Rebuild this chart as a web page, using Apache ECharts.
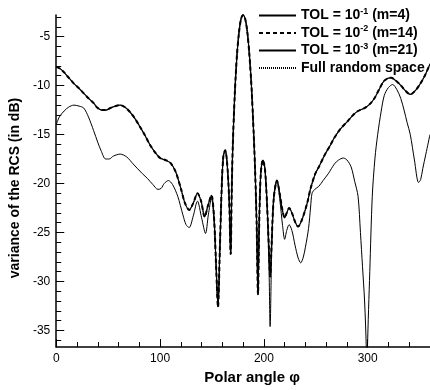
<!DOCTYPE html>
<html>
<head>
<meta charset="utf-8">
<script src="https://cdn.jsdelivr.net/npm/echarts@6/dist/echarts.min.js"></script>
<style>
  html, body { margin: 0; padding: 0; background: #fff; }
  #chart { width: 430px; height: 390px; }
</style>
</head>
<body>
<div id="chart"></div>
<script>
// thick curve: TOL=1e-2, TOL=1e-3 and full random space lie on top of each other
var upperPhi = [0, 4, 8, 12, 17, 22, 26.5, 31, 36, 40, 43.6, 48, 52, 57, 61.6, 66, 71, 76, 80, 85,
    90, 95, 100, 105, 110, 115, 120, 124, 128, 132, 136, 139.5, 143, 146, 149.5, 152, 154, 155.8, 157.5, 159.5,
    161, 162.7, 164.5, 166.5, 168, 169, 170, 172, 174, 176, 178, 180, 182, 184, 186, 188, 190, 191.5, 193, 194.3,
    195.5, 197, 199, 201, 203, 205, 206, 207.5, 209.5, 212.6, 215.5, 218, 220, 222, 224.3, 227, 230, 233, 237, 241.7,
    245, 249.5, 253, 259, 264, 268, 274, 281, 286, 290.7, 297, 302, 306.5, 311, 316, 322.5, 327, 332, 336, 341,
    346, 350.7, 355, 360];
var upperVals = [-8.1, -8.3, -8.7, -9.2, -9.8, -10.3, -10.8, -11.3, -11.8, -12.3, -12.5, -12.5, -12.3, -12.1, -12.0, -12.2, -12.7, -13.4, -14.1, -15.0,
    -16.0, -16.8, -17.4, -17.6, -17.9, -18.8, -20.5, -22.0, -22.7, -22.0, -21.0, -21.8, -23.4, -22.3, -21.2, -23.5, -28.5, -32.6, -27, -20,
    -17.2, -16.6, -17.8, -21.5, -27.2, -21, -16.3, -10.8, -7.0, -4.6, -3.2, -2.8, -3.2, -4.5, -6.8, -10.0, -14.5, -18.5, -24, -31.3,
    -24, -19, -17.6, -18.5, -22, -27, -29.5, -26, -21.5, -19.7, -21.2, -22.8, -23.5, -23.0, -22.5, -23.0, -23.9, -24.4, -23.6, -22.0,
    -20.5, -19.0, -18.3, -17.0, -16.1, -15.3, -14.4, -13.6, -13.0, -12.6, -12.3, -11.9, -11.3, -10.4, -9.5, -9.2, -9.5, -10.0, -10.5, -10.9,
    -10.5, -9.8, -9.0, -7.8];

// thin curve: TOL=1e-1 (m=4)
var lowerPhi = [0, 3, 7.6, 12, 17, 22, 26.5, 31, 36, 40, 43, 47.6, 51, 55, 61.6, 68, 74, 83, 88, 93,
    98, 101, 104, 108, 112, 117, 122, 125, 128, 132, 136, 140, 143.8, 146.5, 149.5, 152, 154, 155.8, 157.5, 159.5,
    161, 162.7, 164.5, 166.5, 168, 169, 170, 172, 174, 176, 178, 180, 182, 184, 186, 188, 190, 191.5, 193, 194.3,
    195.5, 197, 199, 201, 203, 205, 206, 207.5, 209.5, 212.6, 215.5, 218, 220, 222, 224.3, 227, 230, 233, 235.5, 238,
    240, 243, 245, 246.4, 249, 252.8, 257, 262, 268, 272, 276.5, 280, 284, 287.5, 290.7, 293, 295, 297, 298.6, 299.2,
    299.8, 302, 304.4, 307, 309.6, 313, 316, 320, 324, 328, 331.8, 335, 338, 341, 345, 349, 351, 353, 356, 360];
var lowerVals = [-14.0, -13.2, -12.6, -12.2, -12.0, -12.1, -12.3, -13.2, -14.6, -15.8, -16.6, -17.5, -17.5, -17.2, -17.0, -17.3, -18.0, -19.0, -19.5, -20.1,
    -20.6, -20.5, -20.0, -19.7, -20.1, -21.3, -23.2, -24.2, -24.5, -23.3, -21.8, -23.5, -25.1, -23.2, -21.5, -23.8, -28.5, -32.6, -27, -20,
    -17.2, -16.6, -17.8, -21.5, -27.2, -21, -16.3, -10.8, -7.0, -4.6, -3.2, -2.8, -3.2, -4.5, -6.8, -10.0, -14.5, -18.5, -24, -31.3,
    -24, -19, -17.6, -18.5, -22, -29, -34.6, -27, -21.5, -19.7, -21.8, -24.3, -25.7, -24.8, -24.2, -24.8, -26.3, -27.6, -28.1, -27.5,
    -26.5, -24.6, -22.4, -21.0, -20.6, -20.3, -19.7, -19.0, -18.0, -17.6, -17.4, -17.6, -18.3, -19.8, -21.3, -25, -28.5, -32, -36.7, -42,
    -36.7, -29, -21.3, -17.4, -15.0, -12.6, -11.0, -10.2, -9.9, -10.4, -11.3, -12.5, -13.8, -15.0, -17.6, -19.9, -19.6, -18.5, -17.0, -15.0];

var seriesNames = ['m4', 'm14', 'm21', 'full'];
var legendLabels = {
    m4: 'TOL = 10{s|-1} (m=4)',
    m14: 'TOL = 10{s|-2} (m=14)',
    m21: 'TOL = 10{s|-3} (m=21)',
    full: 'Full random space'
};

var xLabelTicks = [0, 100, 200, 300];
var xMinorTicks = [0, 20, 40, 60, 80, 100, 120, 140, 160, 180, 200, 220, 240, 260, 280, 300, 320, 340, 360];
var yLabelTicks = [-35, -30, -25, -20, -15, -10, -5];
var yMinorTicks = [-36, -35, -34, -33, -32, -31, -30, -29, -28, -27, -26, -25, -24, -23, -22, -21, -20, -19, -18, -17,
    -16, -15, -14, -13, -12, -11, -10, -9, -8, -7, -6, -5, -4, -3];

function pairs(xs, ys) {
    var out = [];
    for (var i = 0; i < xs.length; i++) out.push([xs[i], ys[i]]);
    return out;
}

var font = "'Liberation Sans', Arial, sans-serif";
var chart = echarts.init(document.getElementById('chart'));

var xMin = 0, xMax = 360, yMin = -36.7, yMax = -2.8;

chart.setOption({
    animation: false,
    textStyle: { fontFamily: font, color: '#000' },
    grid: { left: 50, right: 0, top: 15, bottom: 36 },
    legend: {
        orient: 'vertical',
        left: 258,
        top: 7,
        padding: 0,
        itemWidth: 37,
        itemHeight: 14,
        itemGap: 0.5,
        data: seriesNames,
        itemStyle: { opacity: 0 },
        formatter: function (name) { return legendLabels[name]; },
        textStyle: {
            fontFamily: font,
            fontSize: 14,
            fontWeight: 'bold',
            color: '#000',
            lineHeight: 17,
            rich: {
                s: { fontFamily: font, fontSize: 9, fontWeight: 'bold', color: '#000', verticalAlign: 'top', lineHeight: 17 }
            }
        }
    },
    xAxis: [{
        type: 'value',
        min: xMin, max: xMax,
        name: 'Polar angle φ',
        nameLocation: 'middle',
        nameGap: 15,
        nameTextStyle: { fontFamily: font, fontSize: 15, fontWeight: 'bold', color: '#000', padding: [0, 0, 0, 18] },
        axisLine: { lineStyle: { color: '#000', width: 1.5 } },
        axisTick: { inside: true, length: 8, customValues: xLabelTicks, lineStyle: { color: '#000', width: 1 } },
        axisLabel: { customValues: xLabelTicks, fontSize: 12, color: '#000', margin: 6 },
        splitLine: { show: false }
    }, {
        type: 'value',
        min: xMin, max: xMax,
        position: 'bottom',
        axisLine: { show: false },
        axisTick: { inside: true, length: 5, customValues: xMinorTicks, lineStyle: { color: '#000', width: 1 } },
        axisLabel: { show: false },
        splitLine: { show: false }
    }],
    yAxis: [{
        type: 'value',
        min: yMin, max: yMax,
        name: 'variance of the RCS (in dB)',
        nameLocation: 'middle',
        nameGap: 33,
        nameTextStyle: { fontFamily: font, fontSize: 14, fontWeight: 'bold', color: '#000', padding: [0, 14, 0, 0] },
        axisLine: { show: true, lineStyle: { color: '#000', width: 1.5 } },
        axisTick: { show: true, inside: true, length: 8, customValues: yLabelTicks, lineStyle: { color: '#000', width: 1 } },
        axisLabel: { customValues: yLabelTicks, fontSize: 12, color: '#000', margin: 6 },
        splitLine: { show: false }
    }, {
        type: 'value',
        min: yMin, max: yMax,
        position: 'left',
        axisLine: { show: false },
        axisTick: { show: true, inside: true, length: 5, customValues: yMinorTicks, lineStyle: { color: '#000', width: 1 } },
        axisLabel: { show: false },
        splitLine: { show: false }
    }],
    series: [{
        name: 'm4',
        type: 'line',
        data: pairs(lowerPhi, lowerVals),
        showSymbol: false, symbol: 'none',
        smooth: 0.3,
        lineStyle: { color: '#000', width: 1 },
        itemStyle: { color: '#000' }
    }, {
        name: 'm14',
        type: 'line',
        data: pairs(upperPhi, upperVals),
        showSymbol: false, symbol: 'none',
        smooth: 0.3,
        lineStyle: { color: '#000', width: 2, type: [4, 3] },
        itemStyle: { color: '#000' }
    }, {
        name: 'm21',
        type: 'line',
        data: pairs(upperPhi, upperVals),
        showSymbol: false, symbol: 'none',
        smooth: 0.3,
        lineStyle: { color: '#000', width: 1.2 },
        itemStyle: { color: '#000' }
    }, {
        name: 'full',
        type: 'line',
        data: pairs(upperPhi, upperVals),
        showSymbol: false, symbol: 'none',
        smooth: 0.3,
        lineStyle: { color: '#000', width: 1, type: [1, 1] },
        itemStyle: { color: '#000' }
    }]
});
</script>
</body>
</html>
